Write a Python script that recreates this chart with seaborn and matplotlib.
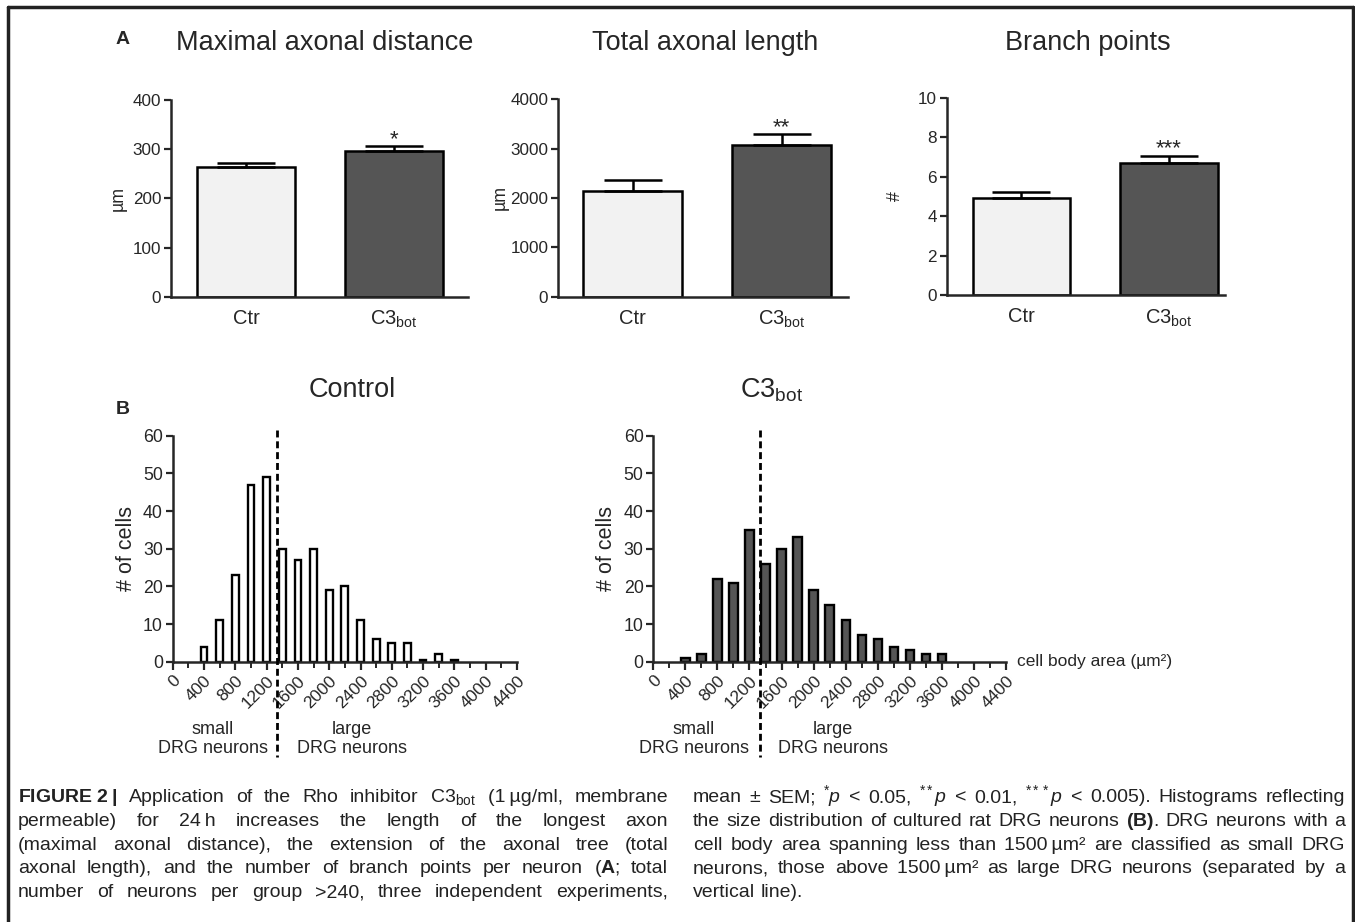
import matplotlib
matplotlib.use("Agg")
import matplotlib.pyplot as plt
from matplotlib.lines import Line2D
from matplotlib import font_manager
import seaborn as sns
import pandas as pd

# ---- data ----
groups = ["Ctr", "C3bot"]
max_dist = [264, 296]
max_dist_sem = [8, 10]
total_len = [2150, 3080]
total_len_sem = [220, 210]
branch = [4.9, 6.67]
branch_sem = [0.3, 0.38]
stars = ["*", "**", "***"]

bins = [400, 600, 800, 1000, 1200, 1400, 1600, 1800, 2000, 2200,
        2400, 2600, 2800, 3000, 3200, 3400, 3600]
control_counts = [4, 11, 23, 47, 49, 30, 27, 30, 19, 20, 11, 6, 5, 5, 0.5, 2, 0.5]
c3_counts = [1, 2, 22, 21, 35, 26, 30, 33, 19, 15, 11, 7, 6, 4, 3, 2, 2]
split_pos = 1330  # dashed separator as drawn

W, H = 1355, 922
sns.set_style("ticks")
names = {f.name for f in font_manager.fontManager.ttflist}
narrow = "Liberation Sans Narrow" if "Liberation Sans Narrow" in names else "Liberation Sans"
plt.rcParams["font.family"] = ["Liberation Sans", "DejaVu Sans"]
plt.rcParams["mathtext.fontset"] = "custom"
plt.rcParams["mathtext.rm"] = "Liberation Sans"
plt.rcParams["mathtext.sf"] = narrow
plt.rcParams["mathtext.it"] = narrow + ":italic"
plt.rcParams["mathtext.bf"] = narrow + ":bold"

fig = plt.figure(figsize=(W / 100, H / 100), dpi=100)


def ax_px(l, t, r, b):
    return fig.add_axes([l / W, 1 - b / H, (r - l) / W, (b - t) / H])


def style_axis(ax):
    sns.despine(ax=ax)
    for s in ["left", "bottom"]:
        ax.spines[s].set_linewidth(1.8)
    ax.tick_params(axis="y", length=5, width=1.6, labelsize=12.3, pad=2)
    ax.set_xlabel("")


light, dark = "#f2f2f2", "#555555"
bar_panels = [
    ((171, 100, 468, 296.7), max_dist, max_dist_sem, (0, 400), [0, 100, 200, 300, 400], (-0.507, 1.5), "µm", -0.178),
    ((558, 99.3, 848, 296.7), total_len, total_len_sem, (0, 4000), [0, 1000, 2000, 3000, 4000], (-0.5, 1.446), "µm", -0.2),
    ((946.7, 97.7, 1225, 295), branch, branch_sem, (0, 10), [0, 2, 4, 6, 8, 10], (-0.507, 1.38), "#", -0.186),
]
for (box, vals, sem, ylim, yt, xlim, ylab, lx), star in zip(bar_panels, stars):
    ax = ax_px(*box)
    df = pd.DataFrame({"group": groups, "value": vals})
    sns.barplot(data=df, x="group", y="value", hue="group", palette=[light, dark],
                width=0.66, edgecolor="black", linewidth=1.8, errorbar=None,
                saturation=1, legend=False, ax=ax)
    ax.errorbar([0, 1], vals, yerr=[[0, 0], sem], fmt="none", ecolor="black",
                elinewidth=1.8, capsize=21, capthick=1.8, zorder=1)
    ax.set_ylim(*ylim)
    ax.set_xlim(*xlim)
    ax.set_yticks(yt)
    style_axis(ax)
    ax.tick_params(axis="x", length=0, labelsize=14.5, pad=9)
    ax.set_xticks([0, 1])
    ax.set_xticklabels(["Ctr", r"C3$_{\mathrm{bot}}$"])
    ax.set_ylabel(ylab, fontsize=12.8, va="center")
    ax.yaxis.set_label_coords(lx, 0.5)
    ax.annotate(star, (1, vals[1] + sem[1]), xytext=(0, 1), textcoords="offset points",
                ha="center", va="baseline", fontsize=16)

titles = [("Maximal axonal distance", 325), ("Total axonal length", 705), ("Branch points", 1088)]
for t, x in titles:
    fig.text(x / W, 1 - 43 / H, t, ha="center", va="center", fontsize=19.5)

# ---- histograms ----
hist_panels = [
    ((172.7, 435.7, 517, 661.7), control_counts, "white", 0.43, "Control", 352, (213, 352)),
    ((653.3, 435.7, 1006, 661.7), c3_counts, dark, 0.52, r"C3$_{\mathrm{bot}}$", 772, (694, 833)),
]
for box, counts, fill, bw, title, tx, (sx, lx) in hist_panels:
    ax = ax_px(*box)
    df = pd.DataFrame({"area": bins, "cells": counts})
    sns.barplot(data=df, x="area", y="cells", native_scale=True, width=bw,
                color=fill, edgecolor="black", linewidth=1.7, errorbar=None,
                saturation=1, ax=ax)
    ax.set_xlim(0, 4400)
    ax.set_ylim(0, 60)
    ax.set_yticks(range(0, 61, 10))
    ax.set_xticks(range(0, 4401, 400))
    ax.set_xticks(range(0, 4401, 200), minor=True)
    style_axis(ax)
    ax.tick_params(axis="y", labelsize=12.8)
    ax.tick_params(axis="x", which="major", length=6, width=1.6, labelsize=12.5, pad=2)
    ax.tick_params(axis="x", which="minor", length=4, width=1.4)
    ax.set_xticklabels([str(v) for v in range(0, 4401, 400)], rotation=45,
                       ha="right", rotation_mode="anchor")
    ax.set_ylabel("# of cells", fontsize=15.5, va="center")
    ax.yaxis.set_label_coords(-0.133, 0.5)
    ax.plot([split_pos, split_pos], [61.5, -25.3], color="black", lw=2,
            dashes=(2.5, 1.4), clip_on=False, zorder=5)
    fig.text(tx / W, 1 - 390 / H, title, ha="center", va="center", fontsize=19.5)
    fig.text(sx / W, 1 - 739 / H, "small\nDRG neurons", ha="center", va="center",
             fontsize=13, linespacing=1.2)
    fig.text(lx / W, 1 - 739 / H, "large\nDRG neurons", ha="center", va="center",
             fontsize=13, linespacing=1.2)

fig.text(1017 / W, 1 - 661 / H, "cell body area (µm²)", ha="left", va="center", fontsize=12.5)
fig.text(123 / W, 1 - 40 / H, "A", ha="center", va="center", fontsize=14, fontweight="bold")
fig.text(123 / W, 1 - 410 / H, "B", ha="center", va="center", fontsize=14, fontweight="bold")

# ---- frame ----
for xs, ys in [([8, 8], [7, 925]), ([8, 1353], [7, 7]), ([1353, 1353], [7, 925])]:
    fig.add_artist(Line2D([x / W for x in xs], [1 - y / H for y in ys],
                          transform=fig.transFigure, color="#222222", lw=2.5))

# ---- caption ----
left_lines = [
    r"$\mathbf{FIGURE}\;\mathbf{2}\;\mathbf{|}$ Application of the Rho inhibitor C3$_{\mathsf{bot}}$ (1" + "\u2009µg/ml, membrane",
    "permeable) for 24\u2009h increases the length of the longest axon",
    "(maximal axonal distance), the extension of the axonal tree (total",
    r"axonal length), and the number of branch points per neuron ($\mathbf{A}$; total",
    "number of neurons per group >240, three independent experiments,",
]
right_lines = [
    r"mean ± SEM; ${}^{*}\mathit{p}$ < 0.05, ${}^{**}\mathit{p}$ < 0.01, ${}^{***}\mathit{p}$ < 0.005). Histograms reflecting",
    r"the size distribution of cultured rat DRG neurons $\mathbf{(B)}$. DRG neurons with a",
    "cell body area spanning less than 1500\u2009µm² are classified as small DRG",
    "neurons, those above 1500\u2009µm² as large DRG neurons (separated by a",
    "vertical line).",
]
line_y = [797, 821, 845, 868, 892]
renderer = fig.canvas.get_renderer()
cols = [(18, 668, left_lines, [True] * 5), (693, 1345, right_lines, [True] * 4 + [False])]


def word_widths(words, size):
    ts = [fig.text(0, 0, w, fontsize=size, family=[narrow, "DejaVu Sans"]) for w in words]
    ws = [t.get_window_extent(renderer=renderer).width for t in ts]
    for t in ts:
        t.remove()
    return ws


# largest size at which every justified line still keeps a normal word gap
cap_size = 14.0
for x0, x1, lines, just in cols:
    for ln, j in zip(lines, just):
        words = ln.split(" ")
        w10 = sum(word_widths(words, 10)) / 10
        fit = (x1 - x0) / (w10 + (len(words) - 1) * 0.3 * 100 / 72)
        cap_size = min(cap_size, fit)


def draw_line(x0, x1, y, line, justify):
    words = line.split(" ")
    texts = [fig.text(0, 1 - (y + 5) / H, w, fontsize=cap_size, family=[narrow, "DejaVu Sans"],
                      ha="left", va="baseline", color="#222222") for w in words]
    widths = [t.get_window_extent(renderer=renderer).width for t in texts]
    gap = (x1 - x0 - sum(widths)) / (len(words) - 1) if justify else cap_size * 0.4
    x = x0
    for t, w in zip(texts, widths):
        t.set_x(x / W)
        x += w + gap


for x0, x1, lines, just in cols:
    for ln, y, j in zip(lines, line_y, just):
        draw_line(x0, x1, y, ln, j)

fig.savefig("out.png", dpi=100)
